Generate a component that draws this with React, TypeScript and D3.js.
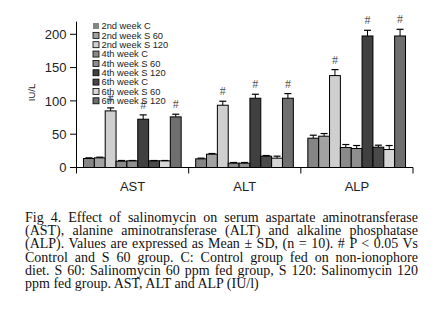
import React, { useEffect, useRef } from "react";
import * as d3 from "d3";

const categories = ["AST", "ALT", "ALP"];
const groups = [
  "2nd week C",
  "2nd week S 60",
  "2nd week S 120",
  "4th week C",
  "4th week S 60",
  "4th week S 120",
  "6th week C",
  "6th week S 60",
  "6th week S 120",
];
const groupColors = ["#858585", "#a2a2a2", "#cfcfcf", "#8a8a8a", "#8f8f8f", "#404040", "#4a4a4a", "#d6d6d6", "#6f6f6f"];

const astMean = [13.5, 14.5, 85, 9.5, 10, 72.5, 10, 10, 76];
const astSD = [1, 1, 4.5, 1, 0.5, 6.5, 0.5, 0.5, 4];
const altMean = [13, 20, 93.5, 6.5, 6.5, 104, 17, 14, 104];
const altSD = [1, 1, 6, 1, 1, 6, 1, 3, 7];
const alpMean = [44, 47, 138, 30, 28.5, 197.5, 30.5, 27, 197.5];
const alpSD = [4.5, 4, 9, 4.5, 4.5, 8.5, 3, 6, 10];
const significant = [false, false, true, false, false, true, false, false, true];

const yTicks = [0, 50, 100, 150, 200];
const yLabel = "IU/L";

const captionLines = [
  "Fig 4. Effect of salinomycin on serum aspartate aminotransferase",
  "(AST), alanine aminotransferase (ALT) and alkaline phosphatase",
  "(ALP). Values are expressed as Mean ± SD, (n = 10). # P < 0.05 Vs",
  "Control and S 60 group. C: Control group fed on non-ionophore",
  "diet. S 60: Salinomycin 60 ppm fed group, S 120: Salinomycin 120",
  "ppm fed group. AST, ALT and ALP (IU/l)",
];

const means = [astMean, altMean, alpMean];
const sds = [astSD, altSD, alpSD];

const W = 446;
const H = 321;
const sans = "'Liberation Sans', Arial, sans-serif";
const serif = "'Liberation Serif', 'Times New Roman', serif";

export default function App() {
  const capRef = useRef<SVGGElement>(null);

  const x = d3.scaleBand<string>().domain(categories).range([76.5, 413]).paddingInner(0).paddingOuter(0);
  const bw = x.bandwidth();
  const xi = d3.scaleBand<string>().domain(groups).range([7, bw - 7.5]).padding(0);
  const y = d3.scaleLinear().domain([0, 200]).range([167.5, 34.3]);

  const capLeft = 25;
  const capRight = 418;
  const capTop = 222;
  const capStep = 13.2;

  useEffect(() => {
    if (!capRef.current) return;
    const sel = d3.select(capRef.current).selectAll<SVGTextElement, unknown>("text.just");
    sel.each(function () {
      const t = this as SVGTextElement;
      t.setAttribute("word-spacing", "0");
      const len = t.getComputedTextLength();
      const txt = t.textContent || "";
      const n = (txt.match(/ /g) || []).length;
      if (n > 0) {
        const extra = (capRight - capLeft - len) / n;
        t.setAttribute("word-spacing", String(extra));
      }
    });
  }, []);

  return (
    <svg
      width={W}
      height={H}
      viewBox={`0 0 ${W} ${H}`}
      style={{ position: "absolute", left: 0, top: 0, display: "block", background: "#fff" }}
    >
      <rect x={0} y={0} width={W} height={H} fill="#fff" />
      {/* bars */}
      {categories.map((c, ci) => (
        <g key={c} transform={`translate(${x(c)},0)`}>
          {groups.map((g, gi) => {
            const v = means[ci][gi];
            const s = sds[ci][gi];
            const bx = xi(g)!;
            const w = xi.bandwidth();
            const cx = bx + w / 2;
            const top = y(v);
            const et = y(v + s);
            return (
              <g key={g}>
                <rect x={bx} y={top} width={w} height={y(0) - top} fill={groupColors[gi]} stroke="#000" strokeWidth={1} />
                <line x1={cx} x2={cx} y1={top} y2={et} stroke="#000" strokeWidth={1} />
                <line x1={cx - 3.5} x2={cx + 3.5} y1={et} y2={et} stroke="#000" strokeWidth={1.2} />
                {significant[gi] && (
                  <text x={cx} y={et - 6} textAnchor="middle" fontFamily={serif} fontSize={12} fill="#555">
                    #
                  </text>
                )}
              </g>
            );
          })}
        </g>
      ))}

      {/* y axis */}
      <line x1={76.5} x2={76.5} y1={y(219)} y2={y(0)} stroke="#000" strokeWidth={1} />
      {yTicks.map((t) => (
        <g key={t}>
          <line x1={70} x2={76.5} y1={y(t)} y2={y(t)} stroke="#000" strokeWidth={1} />
          <text x={66.5} y={y(t)} dy="0.36em" textAnchor="end" fontFamily={sans} fontSize={13} fill="#222">
            {t}
          </text>
        </g>
      ))}
      <text
        transform={`translate(34.5,92.5) rotate(-90)`}
        textAnchor="middle"
        fontFamily={sans}
        fontSize={9.5}
        fill="#222"
      >
        {yLabel}
      </text>

      {/* x axis */}
      <line x1={76.5} x2={413} y1={y(0)} y2={y(0)} stroke="#000" strokeWidth={1} />
      {[...categories.map((c) => x(c)!), 413].map((p, i) => (
        <line key={i} x1={p} x2={p} y1={y(0)} y2={y(0) + 6} stroke="#000" strokeWidth={1} />
      ))}
      {categories.map((c) => (
        <text key={c} x={x(c)! + bw / 2} y={191} textAnchor="middle" fontFamily={sans} fontSize={13} fill="#222">
          {c}
        </text>
      ))}

      {/* legend */}
      {groups.map((g, gi) => {
        const cy = 26 + gi * 9.35;
        return (
          <g key={g}>
            <rect
              x={93}
              y={cy - 3}
              width={6}
              height={6}
              fill={groupColors[gi]}
              stroke={gi === 0 ? "none" : "#000"}
              strokeWidth={0.8}
            />
            <text x={101.5} y={cy} dy="0.36em" fontFamily={sans} fontSize={9.3} fill="#222">
              {g}
            </text>
          </g>
        );
      })}

      {/* caption */}
      <g ref={capRef}>
        {captionLines.map((l, i) => (
          <text
            key={i}
            className={i < captionLines.length - 1 ? "just" : ""}
            x={capLeft}
            y={capTop + i * capStep}
            fontFamily={serif}
            fontSize={14}
            fill="#111"
            style={{ whiteSpace: "pre" }}
          >
            {l}
          </text>
        ))}
      </g>
    </svg>
  );
}
